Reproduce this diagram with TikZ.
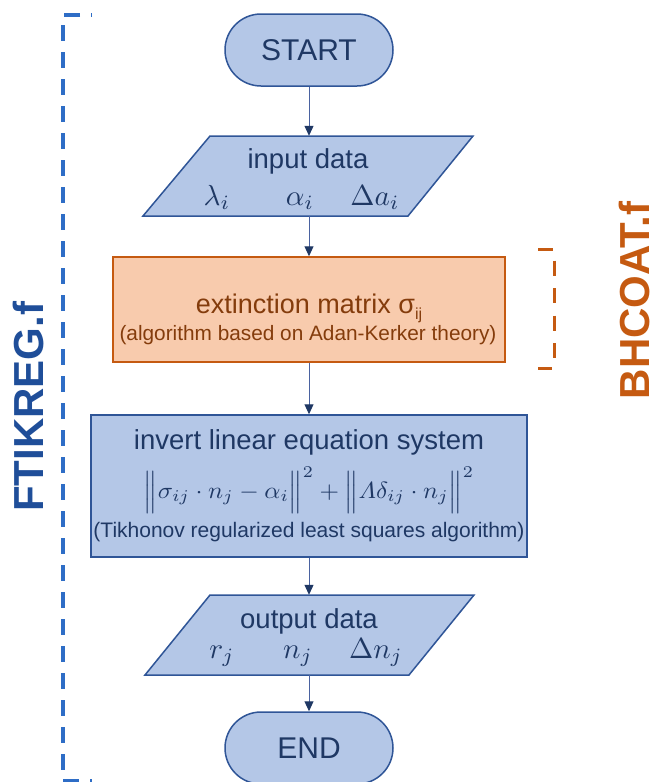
\documentclass[tikz,border=0pt]{standalone}
\usepackage{amsmath}
\usepackage{graphicx}
\usepackage{fontspec}
\setmainfont{Liberation Sans}
\usetikzlibrary{arrows.meta}
\definecolor{boxfill}{HTML}{B4C7E7}
\definecolor{boxline}{HTML}{2F5597}
\definecolor{navy}{HTML}{1F3864}
\definecolor{orfill}{HTML}{F8CBAD}
\definecolor{orline}{HTML}{C55A11}
\definecolor{ortext}{HTML}{843C0C}
\definecolor{ftblue}{HTML}{1F4E99}
\definecolor{dashblue}{HTML}{2E6DC6}
\definecolor{arrline}{HTML}{4A62A0}
\newcommand{\fsz}[1]{\fontsize{#1}{#1}\selectfont}
\newcommand{\mymath}[1]{\scalebox{2.9}{$#1$}}
\begin{document}
\begin{tikzpicture}[x=1pt,y=-1pt,
  termbox/.style={draw=boxline,fill=boxfill,line width=1.5pt,rounded corners=36pt,
    minimum width=168pt,minimum height=72pt,inner sep=0pt,text=navy,font=\fsz{30}},
  iobox/.style={draw=boxline,fill=boxfill,line width=1.5pt,line join=miter},
  ghost/.style={inner sep=0pt,minimum width=200pt,minimum height=80pt},
  procbox/.style={draw=boxline,fill=boxfill,line width=1.5pt,inner sep=0pt},
  extbox/.style={draw=orline,fill=orfill,line width=1.5pt,inner sep=0pt},
  lab/.style={inner sep=0pt,anchor=base,text=navy},
  olab/.style={inner sep=0pt,anchor=base,text=ortext},
  flow/.style={draw=arrline,line width=1pt,-{Triangle[width=9pt,length=10pt,color=navy,fill=navy]}},
  ftbracket/.style={draw=dashblue,line width=4pt,dash pattern=on 16pt off 11pt,dash phase=15pt},
  bhbracket/.style={draw=orline,line width=3pt,dash pattern=on 15pt off 12.5pt},
]
\useasboundingbox (0,0) rectangle (654,782);

% shapes
\node[termbox] (start) at (309,50) {START};
\draw[iobox] (210,136) -- (473,136) -- (408,216) -- (143,216) -- cycle;
\node[ghost] (input) at (309,176) {};
\node[extbox,minimum width=392pt,minimum height=105pt] (ext) at (309,309.5) {};
\node[procbox,minimum width=436pt,minimum height=142pt] (inv) at (309,486) {};
\draw[iobox] (210,595) -- (474,595) -- (409,675) -- (145,675) -- cycle;
\node[ghost] (output) at (309,635) {};
\node[termbox] (end) at (309,748) {END};

% texts
\node[lab,font=\fsz{27.5}] (t1) at (308,168) {input data};
\node[lab] (t2) at (217,205) {\mymath{\lambda_i}};
\node[lab] (t3) at (300,205) {\mymath{\alpha_i}};
\node[lab] (t4) at (375,205) {\mymath{\Delta a_i}};
\node[olab,font=\fsz{27}] (t5) at (309,313) {extinction matrix σ\raisebox{-6pt}{\fsz{16}ij}};
\node[olab,font=\fsz{20.8}] (t6) at (308,340) {(algorithm based on Adan-Kerker theory)};
\node[lab,font=\fsz{27.5}] (t7) at (309,449) {invert linear equation system};
\node[inner sep=0pt,text=navy] (t8) at (309,490) {\resizebox*{330pt}{47pt}{$\Big\|\sigma_{ij}\cdot n_j-\alpha_i\Big\|^2+\Big\|\varLambda\delta_{ij}\cdot n_j\Big\|^2$}};
\node[lab,font=\fsz{21}] (t9) at (309,537) {(Tikhonov regularized least squares algorithm)};
\node[lab,font=\fsz{27.5}] (t10) at (309,628) {output data};
\node[lab] (t11) at (222,658) {\mymath{r_j}};
\node[lab] (t12) at (298,658) {\mymath{n_j}};
\node[lab] (t13) at (376,658) {\mymath{\Delta n_j}};

% connectors
\draw[flow] (start.south) -- (input.north);
\draw[flow] (input.south) -- (ext.north);
\draw[flow] (ext.south) -- (inv.north);
\draw[flow] (inv.south) -- (output.north);
\draw[flow] (output.south) -- (end.north);

% brackets
\draw[ftbracket] (92,15) -- (63,15) -- (63,781) -- (92,781);
\node[rotate=90,inner sep=0pt,text=ftblue,font=\bfseries\fsz{42}] (ft) at (28,407) {FTIKREG.f};
\draw[bhbracket] (538,249) -- (554,249) -- (554,368) -- (538,368);
\node[rotate=90,inner sep=0pt,text=orline,font=\bfseries\fsz{42}] (bh) at (634,300.5) {BHCOAT.f};
\end{tikzpicture}
\end{document}
